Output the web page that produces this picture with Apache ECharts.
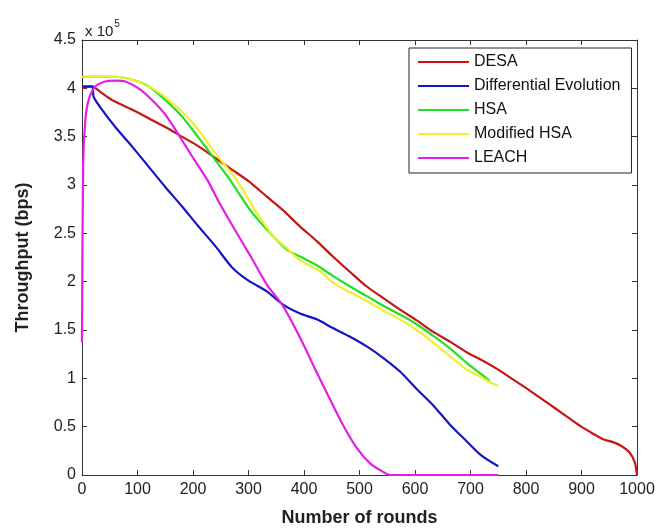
<!DOCTYPE html>
<html>
<head>
<meta charset="utf-8">
<script src="https://cdn.jsdelivr.net/npm/echarts@6/dist/echarts.min.js"></script>
<style>
html,body{margin:0;padding:0;background:#fff;}
#chart{width:660px;height:532px;}
</style>
</head>
<body>
<div id="chart"></div>
<script>
// Values in units of 1e5 bps; x = number of rounds
var seriesNames = ['DESA', 'Differential Evolution', 'HSA', 'Modified HSA', 'LEACH'];
var xTicks = [0, 100, 200, 300, 400, 500, 600, 700, 800, 900, 1000];
var yTicks = [0, 0.5, 1, 1.5, 2, 2.5, 3, 3.5, 4, 4.5];

var desa = [[0,4.0],[18,4.02],[36,3.95],[54,3.88],[90,3.78],[120,3.69],[150,3.60],[180,3.50],[210,3.40],[240,3.28],[270,3.16],[300,3.04],[333,2.88],[362,2.74],[393,2.57],[423,2.42],[452,2.26],[483,2.10],[513,1.95],[543,1.83],[573,1.71],[603,1.60],[633,1.48],[663,1.38],[693,1.27],[720,1.19],[747,1.10],[771,1.01],[795,0.92],[825,0.80],[855,0.68],[877,0.59],[897,0.51],[920,0.43],[939,0.37],[957,0.34],[972,0.30],[987,0.23],[996,0.13],[1000,0]];

var diffEvo = [[0,4.02],[18,4.02],[21,3.91],[36,3.78],[60,3.60],[90,3.40],[120,3.19],[150,2.98],[180,2.78],[210,2.57],[240,2.37],[270,2.15],[300,2.01],[333,1.90],[363,1.76],[393,1.67],[423,1.61],[452,1.52],[483,1.43],[513,1.33],[543,1.21],[573,1.07],[603,0.89],[633,0.72],[663,0.52],[693,0.35],[720,0.20],[750,0.09]];

var hsa = [[0,4.12],[60,4.12],[90,4.09],[120,4.02],[150,3.88],[180,3.71],[210,3.49],[240,3.26],[267,3.05],[303,2.74],[333,2.54],[369,2.33],[393,2.26],[423,2.17],[452,2.06],[483,1.95],[513,1.85],[543,1.75],[573,1.66],[603,1.56],[633,1.44],[663,1.31],[693,1.16],[720,1.04],[735,0.97]];

var modHsa = [[0,4.12],[60,4.12],[90,4.09],[120,4.02],[150,3.91],[180,3.76],[210,3.57],[240,3.33],[279,3.05],[315,2.71],[345,2.47],[372,2.33],[393,2.22],[429,2.11],[452,1.99],[483,1.89],[513,1.80],[543,1.70],[573,1.61],[603,1.50],[633,1.37],[663,1.23],[693,1.09],[720,1.01],[735,0.96],[750,0.92]];

var leach = [[0,1.37],[2,3.2],[6,3.67],[12,3.88],[24,4.02],[42,4.07],[60,4.08],[78,4.07],[102,4.00],[126,3.88],[150,3.73],[174,3.52],[198,3.30],[226,3.05],[249,2.80],[273,2.56],[303,2.27],[333,1.97],[362,1.75],[393,1.42],[423,1.06],[447,0.78],[470,0.52],[495,0.28],[519,0.12],[543,0.03],[555,0],[650,0],[750,0]];

var colors = ['#c81414', '#1414c8', '#22e022', '#f0f02a', '#e41ee4'];
var dataList = [desa, diffEvo, hsa, modHsa, leach];

var FONT = 'Liberation Sans, Arial, sans-serif';
var chart = echarts.init(document.getElementById('chart'), null, {renderer: 'canvas'});

var axisLine = {show: true, onZero: false, lineStyle: {color: '#333', width: 1}};
var tickIn = {show: true, inside: true, length: 5, lineStyle: {color: '#333'}};

var option = {
  animation: false,
  backgroundColor: '#fff',
  title: {
    left: 80, top: 14,
    text: '{a|x 10}{b|5}',
    textStyle: {
      fontWeight: 'normal',
      rich: {
        a: {fontSize: 15, fontWeight: 'normal', fontFamily: FONT, color: '#222', verticalAlign: 'bottom', lineHeight: 20},
        b: {fontSize: 10, fontWeight: 'normal', fontFamily: FONT, color: '#222', verticalAlign: 'top', lineHeight: 20, padding: [0,0,10,1]}
      }
    }
  },
  legend: {
    orient: 'vertical',
    left: 409, top: 48,
    data: seriesNames,
    icon: 'rect',
    itemWidth: 51, itemHeight: 2,
    itemGap: 8,
    padding: [6, 11, 7, 9],
    borderColor: '#222', borderWidth: 1,
    backgroundColor: '#fff',
    textStyle: {fontSize: 16, fontFamily: FONT, color: '#111', lineHeight: 16}
  },
  grid: {left: 82, right: 23, top: 40, bottom: 56},
  xAxis: [{
    type: 'value', min: 0, max: 1000, interval: 100,
    position: 'bottom',
    axisLine: axisLine, axisTick: tickIn, splitLine: {show: false},
    axisLabel: {fontSize: 16, fontFamily: FONT, color: '#222', margin: 7,
      formatter: function (v) { return String(v); }},
    name: 'Number of rounds', nameLocation: 'middle', nameGap: 34,
    nameTextStyle: {fontSize: 18, fontWeight: 'bold', fontFamily: FONT, color: '#222'}
  }, {
    type: 'value', min: 0, max: 1000, interval: 100,
    position: 'top',
    axisLine: axisLine, axisTick: tickIn, splitLine: {show: false},
    axisLabel: {show: false}
  }],
  yAxis: [{
    type: 'value', min: 0, max: 4.5, interval: 0.5,
    position: 'left',
    axisLine: axisLine, axisTick: tickIn, splitLine: {show: false},
    axisLabel: {fontSize: 16, fontFamily: FONT, color: '#222', margin: 6,
      formatter: function (v) { return String(v); }},
    name: 'Throughput (bps)', nameLocation: 'middle', nameGap: 50,
    nameTextStyle: {fontSize: 18, fontWeight: 'bold', fontFamily: FONT, color: '#222'}
  }, {
    type: 'value', min: 0, max: 4.5, interval: 0.5,
    position: 'right',
    axisLine: axisLine, axisTick: tickIn, splitLine: {show: false},
    axisLabel: {show: false}
  }],
  series: seriesNames.map(function (name, i) {
    return {
      name: name,
      type: 'line',
      data: dataList[i],
      xAxisIndex: 0, yAxisIndex: 0,
      showSymbol: false,
      symbol: 'none',
      smooth: 0.25,
      clip: true,
      lineStyle: {color: colors[i], width: 2.2},
      itemStyle: {color: colors[i]}
    };
  })
};
chart.setOption(option);
</script>
</body>
</html>
